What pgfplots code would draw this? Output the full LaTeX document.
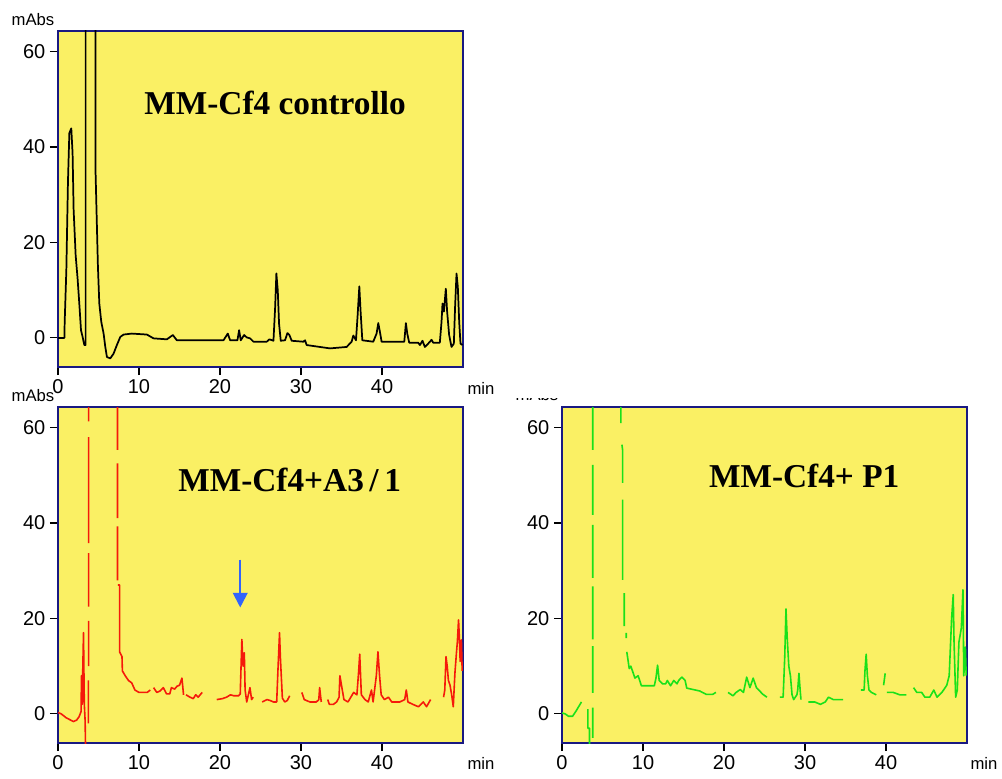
\documentclass[border=0pt]{standalone}
\usepackage{fontspec}
\setmainfont{Liberation Sans}
\newfontfamily\titlefont{Liberation Serif}
\usepackage{pgfplots}
\pgfplotsset{compat=1.18}
\usetikzlibrary{arrows.meta}

\definecolor{plotbg}{RGB}{250,240,100}
\definecolor{framecol}{RGB}{25,25,130}
\definecolor{tracered}{RGB}{245,25,10}
\definecolor{tracegreen}{RGB}{25,225,25}
\definecolor{arrowblue}{RGB}{50,100,250}

\pgfplotsset{chrom/.style={
  scale only axis, width=303.75pt, height=252pt, anchor=south west,
  xmin=0, xmax=50, ymin=-6.1, ymax=64.3,
  xtick={0,10,...,40}, ytick={0,20,40,60},
  tick align=outside, xtick pos=bottom, ytick pos=left,
  major tick length=6pt,
  tick style={black, line width=0.8pt},
  axis line style={framecol, line width=1.3pt},
  axis background/.style={fill=plotbg},
  ticklabel style={font=\fontsize{15}{17}\selectfont},
  /pgf/number format/assume math mode=true,
  unbounded coords=jump,
  every axis plot/.append style={line join=round},
}}
\newcommand{\titlestyle}{\titlefont\bfseries\fontsize{25}{30}\selectfont}

\begin{document}
\begin{tikzpicture}
\path[use as bounding box] (0,0) rectangle (751.5pt,-583.5pt);

% controllo
\begin{axis}[chrom, at={(43.5pt,-275.25pt)}]
\addplot[black, line width=1.3pt] coordinates {
(0,0)(0.8,0)(0.82,3)(1.03,14.2)(1.23,32.7)(1.4,42.9)(1.64,43.9)(1.8,38.7)(1.93,26.8)
(2.18,17.3)(2.42,12.4)(2.63,7.2)(2.84,1.6)(3.04,0.2)(3.25,-1.5)(3.41,-1.5)(3.41,80)
(4.64,80)(4.64,34.5)(4.93,14.9)(5.10,7.2)(5.34,3.4)(5.63,0.9)(5.84,-1.9)(6.04,-4.0)
(6.45,-4.3)(6.86,-3.3)(7.27,-1.5)(7.69,0.2)(8.10,0.7)(9.12,0.9)(10.97,0.7)(11.8,-0.1)
(13.44,-0.3)(14.18,0.6)(14.67,-0.5)(20.43,-0.5)(20.96,0.9)(21.25,-0.5)(22.15,-0.5)
(22.36,1.6)(22.56,-0.5)(22.98,0.6)(23.3,0.1)(23.72,-0.1)(24.13,-0.8)(25.77,-0.8)
(26.1,-0.3)(26.6,-0.6)(26.8,6.1)(26.96,13.5)(27.13,10)(27.29,3)(27.5,-0.6)(28.03,-0.5)
(28.32,1.0)(28.57,0.6)(28.85,-0.6)(30.29,-0.8)(30.5,-0.5)(30.7,-1.5)(32.35,-1.9)
(33.58,-2.2)(35.63,-1.9)(36.25,-0.8)(36.46,0.5)(36.79,-0.5)(36.99,4.7)(37.2,10.8)
(37.36,5.5)(37.57,-0.5)(38.92,-0.8)(39.33,0.9)(39.54,3.1)(39.74,1.3)(39.95,-0.8)
(42.75,-0.8)(42.95,3.1)(43.12,0.9)(43.36,-1.0)(44.47,-1.0)(44.68,-1.5)(45.0,-0.6)
(45.29,-1.9)(45.7,-1.2)(46.12,-0.4)(46.32,-1.0)(47.14,-1.0)(47.35,3.4)(47.47,7.2)
(47.64,5.5)(47.88,10.3)(48.04,5.5)(48.29,0.6)(48.58,-1.9)(48.87,-1.2)(49.03,6.8)
(49.2,13.5)(49.36,10.7)(49.53,3.4)(49.69,-1.2)(49.94,-1.5)
};
\node[font=\titlestyle] at (axis cs:26.8,49.3) {MM-Cf4 controllo};
\end{axis}

% A3/1
\begin{axis}[chrom, at={(43.5pt,-557.25pt)}]
\addplot[tracered, line width=1.2pt] coordinates {
(0,0.3)(0.4,0)(1.0,-0.8)(1.9,-1.6)(2.3,-1.3)(2.6,-0.6)(2.85,0.5)(2.9,8)(3.0,2)(3.05,8.5)
(3.15,17)(3.2,9)(3.25,2)(3.35,-1.5)(3.4,-7) (3.4,nan)
(3.75,-2)(3.75,7) (3.75,nan) (3.78,10)(3.78,19.5) (3.78,nan) (3.78,22.5)(3.78,33.7) (3.78,nan)
(3.78,35.8)(3.78,58) (3.78,nan) (3.78,61.3)(3.78,66) (3.78,nan)
(7.35,66)(7.35,55.3) (7.35,nan) (7.35,52.5)(7.35,41) (7.35,nan) (7.35,39.3)(7.35,28) (7.35,nan)
(7.4,27)(7.6,27)(7.6,13)(7.9,12)(7.95,9)(8.3,8)(8.7,7)(9.1,6.5)(9.5,5)(10.0,4.5)(11.0,4.5)
(11.4,5) (11.4,nan) (11.8,5.5)(12.2,4.5)(12.6,4.8)(13.0,5.5)(13.4,4.2)(13.8,4.2)(14.0,5.5)
(14.4,5.2)(14.7,5.8)(15.0,6)(15.3,7.5)(15.5,4) (15.5,nan) (15.8,4)(16.3,3.5)(16.7,3.2)
(17.0,4.0)(17.3,3.5)(17.8,4.5) (17.8,nan) (19.6,3)(20.3,3.2)(20.8,3.5)(21.3,4)(21.7,3.8)
(22.3,3.8)(22.5,4.2)(22.6,10)(22.7,15.6)(22.85,10)(23.0,12.8)(23.1,5)(23.3,2.5)(23.5,4)
(23.7,5.5)(23.9,3)(24.1,3.5) (24.1,nan) (25.2,2.5)(25.8,3)(26.2,2.8)(26.6,2.5)(27.0,2.5)
(27.15,9)(27.35,17)(27.45,12)(27.55,8.5)(27.7,3.3)(28.0,2.5)(28.3,2.8)(28.6,3.8) (28.6,nan)
(30.1,4.5)(30.4,3)(31.1,2.5)(31.9,2.5)(32.2,3)(32.3,5.5)(32.5,2.5) (32.5,nan)
(33.3,3)(33.5,2)(34.0,2)(34.4,2.5)(34.7,3.5)(34.8,8)(35.0,6)(35.3,3)(35.8,2.5)(36.5,4.5)
(36.9,4)(37.1,8.5)(37.25,12.5)(37.45,4)(37.9,3)(38.3,2.5)(38.7,5)(38.9,2.5)(39.3,8)
(39.5,13)(39.7,8)(39.9,4)(40.3,3)(40.8,3.5)(41.2,2.5)(42.2,2.5)(42.8,3)(43.0,5)(43.2,2.5)
(43.8,2)(44.5,1.5)(45.1,2.5)(45.5,1.5)(46.0,3) (46.0,nan)
(47.6,3.5)(47.75,5)(47.9,12)(48.05,10)(48.2,7)(48.4,6)(48.6,4)(48.8,1.5)(49.0,8.5)
(49.2,13)(49.3,15)(49.45,19.7)(49.55,16)(49.65,11)(49.8,15.5)(49.9,9)
};
\draw[arrowblue, line width=1.5pt, -{Triangle[length=11pt,width=11pt]}]
  (axis cs:22.5,32.3) -- (axis cs:22.5,22.3);
\node[font=\titlestyle] at (axis cs:28.6,49.1) {MM-Cf4+A3\,/\,1};
\end{axis}

% P1
\begin{axis}[chrom, at={(421.5pt,-557.25pt)}]
\addplot[tracegreen, line width=1.2pt] coordinates {
(0,0.2)(0.4,0)(0.8,-0.5)(1.3,-0.5)(1.7,0.5)(2.4,2.5) (2.4,nan)
(3.2,1)(3.2,-3)(3.4,-3)(3.4,-7) (3.4,nan)
(3.8,-5)(3.8,1.3) (3.8,nan) (3.8,4.4)(3.8,14.2) (3.8,nan) (3.8,15.6)(3.8,26.7) (3.8,nan)
(3.8,28.5)(3.8,39.6) (3.8,nan) (3.8,41.7)(3.8,52.2) (3.8,nan) (3.8,55.3)(3.8,66) (3.8,nan)
(7.27,66)(7.27,60.9) (7.27,nan) (7.4,56.4)(7.48,55.3)(7.48,48.4) (7.48,nan)
(7.48,44.9)(7.48,28.1) (7.48,nan) (7.69,25.3)(7.69,18.4) (7.69,nan) (7.93,17)(7.93,15.9)
(7.93,nan) (8.0,13)(8.3,9.5)(8.5,10)(8.7,9)(9.0,7.5)(9.4,8)(9.8,5.9)(11.2,5.9)(11.4,5.9)
(11.6,7.5)(11.8,10.2)(12.0,7)(12.4,6.3)(12.8,6.3)(13.0,7)(13.4,5.9)(13.8,7)(14.2,6.3)
(14.4,7)(14.8,7.7)(15.2,7)(15.4,5.4)(16.2,5.1)(17.0,4.8)(17.8,4.1)(18.6,4.1)(19.0,4.5)
(19.0,nan) (20.5,4.5)(21.1,3.8)(21.5,4.5)(22.0,5.1)(22.4,4.5)(22.8,7.7)(23.2,5.5)
(23.6,7.5)(24.0,5.5)(24.4,4.8)(24.8,4.1)(25.3,3.5) (25.3,nan)
(26.9,3.5)(27.3,3.5)(27.5,12)(27.65,22)(27.8,16)(28.0,10)(28.2,8)(28.4,4)(28.6,3)
(29.0,4)(29.1,5)(29.25,8.5)(29.4,5)(29.5,3) (29.5,nan)
(30.4,2.5)(31.2,2.5)(31.9,2)(32.5,2.5)(32.9,3.5)(33.5,3)(34.7,3) (34.7,nan)
(36.9,5)(37.3,5)(37.4,9)(37.55,12.5)(37.7,8)(37.9,5)(38.2,4.5)(38.8,4) (38.8,nan)
(39.7,6)(39.9,8.5) (39.9,nan) (40.1,4.5)(40.9,4.5)(41.7,4)(42.5,4) (42.5,nan)
(43.4,5.5)(43.8,4.5)(44.4,4.5)(44.8,3.5)(45.4,3.5)(45.9,5)(46.3,3.5)(46.9,4.5)(47.5,6)
(47.8,8)(47.9,12)(48.1,20)(48.3,25)(48.4,15)(48.6,3.5)(48.8,5)(49.0,15)(49.3,18)
(49.5,26)(49.6,8)(49.8,14)(49.9,8)
};
\node[font=\titlestyle] at (axis cs:29.9,49.9) {MM-Cf4+ P1};
\end{axis}

\begin{scope}[x=0.75pt,y=-0.75pt, font=\fontsize{12.5}{14}\selectfont]
\node at (33,20) {mAbs};
\node at (33,396) {mAbs};
\begin{scope}
\clip (500,398) rectangle (570,410);
\node at (537,395) {mAbs};
\end{scope}
\node at (481,388) {min};
\node at (481,763) {min};
\node at (984,763) {min};
\end{scope}
\end{tikzpicture}
\end{document}
